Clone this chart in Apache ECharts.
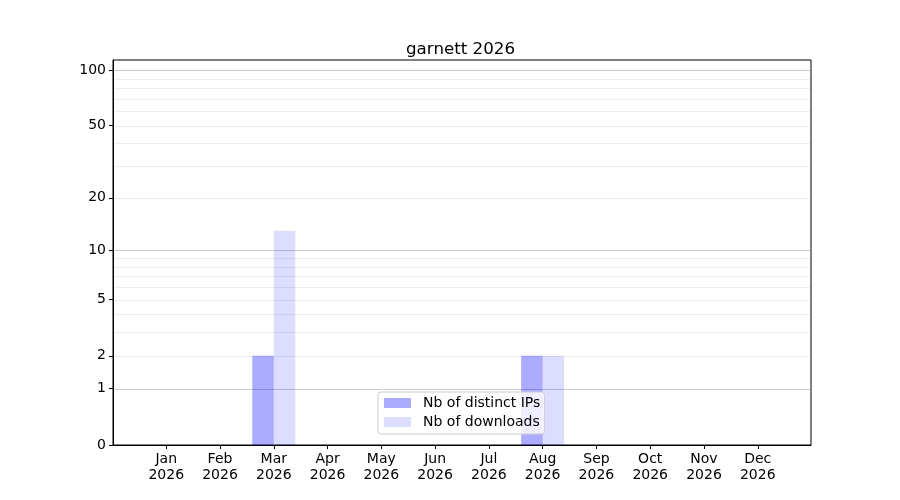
<!DOCTYPE html>
<html>
<head>
<meta charset="utf-8">
<script src="https://cdn.jsdelivr.net/npm/echarts@6/dist/echarts.min.js"></script>
<style>html,body{margin:0;padding:0;background:#fff}#c{width:900px;height:500px}</style>
</head>
<body>
<div id="c"></div>
<script>
var months = ['Jan','Feb','Mar','Apr','May','Jun','Jul','Aug','Sep','Oct','Nov','Dec'];
var yearLabel = '2026';
var distinctIPs = [0,0,2,0,0,0,0,2,0,0,0,0];
var downloads   = [0,0,13,0,0,0,0,2,0,0,0,0];
var yTickValues = [0,1,2,5,10,20,50,100];
var majorGrid = [1,10,100];
var minorGrid = [2,3,4,5,6,7,8,9,20,30,40,50,60,70,80,90];
var yTopValue = 113.6;

function t(v){ return Math.log10(v + 1); }
var xMin = -0.99, xMax = 11.99, barW = 0.4;

function barSeries(name, vals, offset, color){
  return {
    name: name, type: 'custom', z: 3,
    itemStyle: {color: color},
    data: vals.map(function(v,i){ return [i, t(v)]; }),
    renderItem: function(params, api){
      var x = api.value(0), y = api.value(1);
      if (y <= 0) return null;
      var p0 = api.coord([x + offset, 0]);
      var p1 = api.coord([x + offset + barW, y]);
      return {type:'rect', shape:{x:p0[0], y:p1[1], width:p1[0]-p0[0], height:p0[1]-p1[1]}, style:{fill: color}};
    }
  };
}
function gridSeries(vals, color, z){
  return {
    type:'custom', silent:true, z:z, legendHoverLink:false,
    data: vals.map(function(v){ return [0, t(v)]; }),
    renderItem: function(params, api){
      var y = api.value(1);
      var a = api.coord([xMin, y]), b = api.coord([xMax, y]);
      var yy = Math.round(a[1]) + 0.5;
      return {type:'line', shape:{x1:a[0]+1, y1:yy, x2:b[0]-1, y2:yy}, style:{stroke:color, lineWidth:1}};
    }
  };
}

var chart = echarts.init(document.getElementById('c'), null, {renderer:'canvas'});
var font = 'DejaVu Sans';
chart.setOption({
  animation:false,
  textStyle:{fontFamily:font},
  title:{text:'garnett 2026', left:401, top:36, textStyle:{fontFamily:font, fontSize:16.7, fontWeight:'normal', color:'#000'}},
  grid:{left:113, right:89, top:60, bottom:55, show:true, borderColor:'#000', borderWidth:1, backgroundColor:'transparent'},
  legend:{
    orient:'vertical', left:378, top:392, padding:[4,4,5,6], itemGap:5,
    itemWidth:27, itemHeight:10, icon:'rect',
    backgroundColor:'rgba(255,255,255,0.8)', borderColor:'#cccccc', borderWidth:1, borderRadius:3,
    textStyle:{fontFamily:font, fontSize:14, color:'#000', padding:[0,0,0,7]},
    data:['Nb of distinct IPs','Nb of downloads']
  },
  xAxis:{
    type:'value', min:xMin, max:xMax, splitLine:{show:false},
    axisLine:{onZero:false, lineStyle:{color:'#000'}},
    axisTick:{show:true, length:4, customValues:months.map(function(m,i){return i;}), lineStyle:{color:'#000'}},
    axisLabel:{customValues:months.map(function(m,i){return i;}), margin:6, fontSize:14, lineHeight:16, color:'#000', fontFamily:font,
      formatter:function(v){ var i=Math.round(v); return months[i] + '\n' + yearLabel; }}
  },
  yAxis:{
    type:'value', min:0, max:t(yTopValue), splitLine:{show:false},
    axisLine:{show:true, onZero:false, lineStyle:{color:'#000'}},
    axisTick:{show:true, length:4, customValues:yTickValues.map(t), lineStyle:{color:'#000'}},
    axisLabel:{customValues:yTickValues.map(t), margin:7, fontSize:14, color:'#000', fontFamily:font,
      formatter:function(v){ return String(Math.round(Math.pow(10, v) - 1)); }}
  },
  series:[
    gridSeries(minorGrid, '#ededed', 1),
    gridSeries(majorGrid, '#cccccc', 2),
    barSeries('Nb of distinct IPs', distinctIPs, -barW, 'rgba(0,0,255,0.33)'),
    barSeries('Nb of downloads', downloads, 0, 'rgba(0,0,255,0.135)')
  ]
});
</script>
</body>
</html>
